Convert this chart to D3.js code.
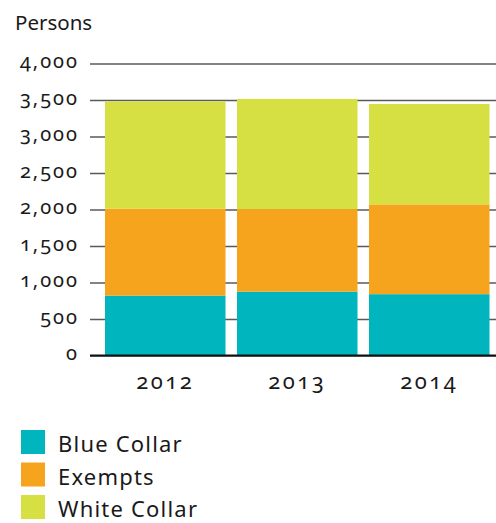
<!DOCTYPE html>
<html>
<head>
<meta charset="utf-8">
<script src="https://cdn.jsdelivr.net/npm/d3@7"></script>
<style>
  html, body { margin: 0; padding: 0; background: #fff; }
  svg text { font-family: "Noto Sans", "Open Sans", sans-serif; fill: #1a1a1a; font-variant-numeric: oldstyle-nums; }
</style>
</head>
<body>
<svg id="chart" width="496" height="523"></svg>
<script>
// Headcount by employee group
const years = ["2012", "2013", "2014"];
const blueCollar = [820, 875, 840];
const exempts = [1190, 1130, 1230];
const whiteCollar = [1470, 1510, 1375];
const seriesNames = ["Blue Collar", "Exempts", "White Collar"];
const seriesColors = ["#00b5bd", "#f6a41e", "#d6e043"];
const yTicks = [0, 500, 1000, 1500, 2000, 2500, 3000, 3500, 4000];

const svg = d3.select("#chart");

const rows = years.map((y, i) => ({
  year: y,
  "Blue Collar": blueCollar[i],
  "Exempts": exempts[i],
  "White Collar": whiteCollar[i]
}));
const stacked = d3.stack().keys(seriesNames)(rows);

const x = d3.scaleBand()
  .domain(years)
  .range([99.25, 495.25])
  .paddingInner(0.087)
  .paddingOuter(0.0435);

const y = d3.scaleLinear().domain([0, 4000]).range([355.5, 63.5]);

const color = d3.scaleOrdinal().domain(seriesNames).range(seriesColors);

// Horizontal gridlines with tick labels
const yAxis = d3.axisLeft(y)
  .tickValues(yTicks)
  .tickSize(-406)
  .tickPadding(11)
  .tickFormat(d3.format(","));

const gy = svg.append("g").attr("transform", "translate(90,0)").call(yAxis);
gy.select(".domain").remove();
gy.selectAll(".tick line").attr("stroke", "#5a5a5a").attr("stroke-width", 1.5);
gy.selectAll(".tick text")
  .attr("font-size", 20)
  .attr("letter-spacing", 2)
  .attr("fill", "#1a1a1a")
  .attr("dy", "0.22em");

// Stacked bars
svg.append("g")
  .selectAll("g")
  .data(stacked)
  .join("g")
  .attr("fill", d => color(d.key))
  .selectAll("rect")
  .data(d => d)
  .join("rect")
  .attr("x", d => x(d.data.year))
  .attr("width", x.bandwidth())
  .attr("y", d => y(d[1]))
  .attr("height", d => y(d[0]) - y(d[1]));

// Baseline
svg.append("line")
  .attr("x1", 90).attr("x2", 496)
  .attr("y1", y(0)).attr("y2", y(0))
  .attr("stroke", "#111").attr("stroke-width", 2);

// Year labels
const gx = svg.append("g").attr("transform", `translate(0,${y(0)})`)
  .call(d3.axisBottom(x).tickSize(0).tickPadding(18));
gx.select(".domain").remove();
gx.selectAll(".tick text")
  .attr("font-size", 22)
  .attr("letter-spacing", 2.5)
  .attr("fill", "#1a1a1a");

// Axis title
svg.append("text")
  .attr("x", 15).attr("y", 30)
  .attr("font-size", 20.5)
  .text("Persons");

// Legend
const legend = svg.append("g").attr("transform", "translate(21,430)");
const item = legend.selectAll("g")
  .data(seriesNames)
  .join("g")
  .attr("transform", (d, i) => `translate(0,${i * 32.5})`);
item.append("rect")
  .attr("width", 24).attr("height", 24)
  .attr("fill", d => color(d));
item.append("text")
  .attr("x", 37).attr("y", 22)
  .attr("font-size", 22)
  .attr("letter-spacing", 1.2)
  .text(d => d);
</script>
</body>
</html>
